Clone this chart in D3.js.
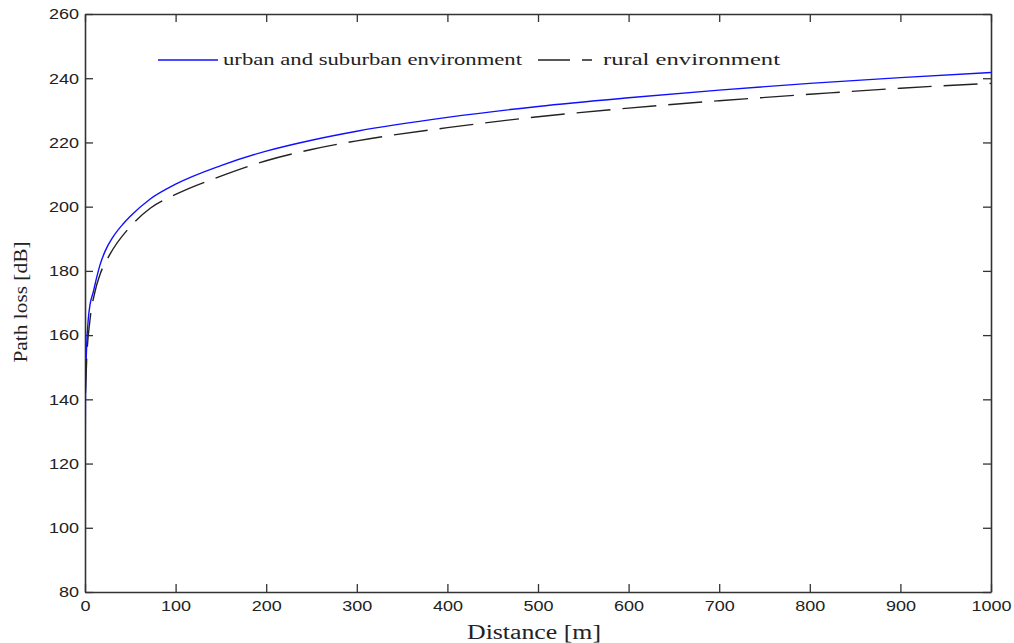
<!DOCTYPE html>
<html>
<head>
<meta charset="utf-8">
<script src="https://cdn.jsdelivr.net/npm/d3@7"></script>
<style>
  body { margin: 0; background: #fff; }
  svg { display: block; }
</style>
</head>
<body>
<div id="chart"></div>
<script>
// distances [m] and path loss [dB]
const urbanDist = [0.1, 0.5, 1.8, 3.7, 5.5, 9.2, 12.9, 16.5, 22, 31, 42, 50, 72, 100, 150, 200, 250, 300, 400, 500, 600, 700, 800, 900, 1000];
const urbanLoss = [108, 142, 156.3, 165.2, 169.4, 173.5, 178, 181.8, 186, 190.6, 194.6, 197, 202.4, 207, 212.8, 217.3, 220.7, 223.5, 227.8, 231.2, 233.9, 236.3, 238.4, 240.2, 241.8];

const ruralDist = [0.5, 1.8, 5.5, 11, 16.5, 27.6, 50, 72, 100, 150, 200, 250, 300, 400, 500, 600, 700, 800, 900, 1000];
const ruralLoss = [142, 152, 164.7, 173.5, 178.8, 185.2, 193.8, 199.5, 203.8, 209.5, 214.3, 217.8, 220.5, 224.6, 228, 230.7, 233, 235, 236.9, 238.4];

const xTicks = [0, 100, 200, 300, 400, 500, 600, 700, 800, 900, 1000];
const yTicks = [80, 100, 120, 140, 160, 180, 200, 220, 240, 260];

const seriesNames = ['urban and suburban environment', 'rural environment'];

const width = 1014, height = 643;
const margin = {top: 14, right: 23, bottom: 51, left: 85};
const innerW = width - margin.left - margin.right;
const innerH = height - margin.top - margin.bottom;
const stretch = 1.2; // the figure text is a bit wide

const svg = d3.select('#chart').append('svg')
  .attr('width', width)
  .attr('height', height);

const x = d3.scaleLinear().domain([0, 1000]).range([0, innerW]);
const y = d3.scaleLinear().domain([80, 260]).range([innerH, 0]);

const g = svg.append('g').attr('transform', `translate(${margin.left},${margin.top})`);

g.append('clipPath').attr('id', 'clip')
  .append('rect').attr('width', innerW).attr('height', innerH);

const line = d3.line()
  .x(d => x(d[0]))
  .y(d => y(d[1]))
  .curve(d3.curveMonotoneX);

const urban = urbanDist.map((d, i) => [d, urbanLoss[i]]);
const rural = ruralDist.map((d, i) => [d, ruralLoss[i]]);

const axisColor = '#333';
const tickFont = '"Liberation Sans", Arial, sans-serif';
const serif = '"Liberation Serif", "Times New Roman", serif';

// axes (ticks inside, box like matlab)
const styleAxis = sel => {
  sel.select('.domain').attr('stroke', axisColor).attr('stroke-width', 1.6);
  sel.selectAll('.tick line').attr('stroke', axisColor).attr('stroke-width', 1.3);
};

const bottomAxis = g.append('g')
  .attr('transform', `translate(0,${innerH})`)
  .call(d3.axisBottom(x).tickValues(xTicks).tickFormat(d3.format('d'))
    .tickSizeInner(-8).tickSizeOuter(0).tickPadding(8));
bottomAxis.call(styleAxis);
bottomAxis.selectAll('.tick text')
  .attr('font-family', tickFont).attr('font-size', 15).attr('fill', '#222')
  .attr('transform', `scale(${stretch},1)`);

const leftAxis = g.append('g')
  .call(d3.axisLeft(y).tickValues(yTicks).tickFormat(d3.format('d'))
    .tickSizeInner(-8).tickSizeOuter(0).tickPadding(6));
leftAxis.call(styleAxis);
leftAxis.selectAll('.tick text')
  .attr('font-family', tickFont).attr('font-size', 15).attr('fill', '#222')
  .attr('x', -6 / stretch)
  .attr('transform', `scale(${stretch},1)`);

const topAxis = g.append('g')
  .call(d3.axisTop(x).tickValues(xTicks).tickSizeInner(-8).tickSizeOuter(0).tickFormat(''));
topAxis.call(styleAxis);

const rightAxis = g.append('g')
  .attr('transform', `translate(${innerW},0)`)
  .call(d3.axisRight(y).tickValues(yTicks).tickSizeInner(-8).tickSizeOuter(0).tickFormat(''));
rightAxis.call(styleAxis);

// curves
const plot = g.append('g').attr('clip-path', 'url(#clip)');
plot.append('path')
  .datum(urban)
  .attr('fill', 'none')
  .attr('stroke', '#1010ff')
  .attr('stroke-width', 1.4)
  .attr('d', line);
plot.append('path')
  .datum(rural)
  .attr('fill', 'none')
  .attr('stroke', '#222')
  .attr('stroke-width', 1.4)
  .attr('stroke-dasharray', '34,12')
  .attr('d', line);

// legend
const legend = svg.append('g');
legend.append('line')
  .attr('x1', 158).attr('x2', 218).attr('y1', 60).attr('y2', 60)
  .attr('stroke', '#1010ff').attr('stroke-width', 1.4);
legend.append('text')
  .attr('x', 223).attr('y', 65)
  .attr('font-family', serif).attr('font-size', 16).attr('fill', '#222')
  .attr('textLength', 299).attr('lengthAdjust', 'spacingAndGlyphs')
  .text(seriesNames[0]);
legend.append('line')
  .attr('x1', 538).attr('x2', 592).attr('y1', 60).attr('y2', 60)
  .attr('stroke', '#222').attr('stroke-width', 1.4)
  .attr('stroke-dasharray', '32,12');
legend.append('text')
  .attr('x', 603).attr('y', 65)
  .attr('font-family', serif).attr('font-size', 16).attr('fill', '#222')
  .attr('textLength', 177).attr('lengthAdjust', 'spacingAndGlyphs')
  .text(seriesNames[1]);

// axis titles
svg.append('text')
  .attr('x', 534).attr('y', 639)
  .attr('text-anchor', 'middle')
  .attr('font-family', serif).attr('font-size', 20).attr('fill', '#222')
  .attr('textLength', 134).attr('lengthAdjust', 'spacingAndGlyphs')
  .text('Distance [m]');

svg.append('text')
  .attr('transform', 'translate(27,302) rotate(-90)')
  .attr('text-anchor', 'middle')
  .attr('font-family', serif).attr('font-size', 18).attr('fill', '#222')
  .attr('textLength', 121).attr('lengthAdjust', 'spacingAndGlyphs')
  .text('Path loss [dB]');
</script>
</body>
</html>
